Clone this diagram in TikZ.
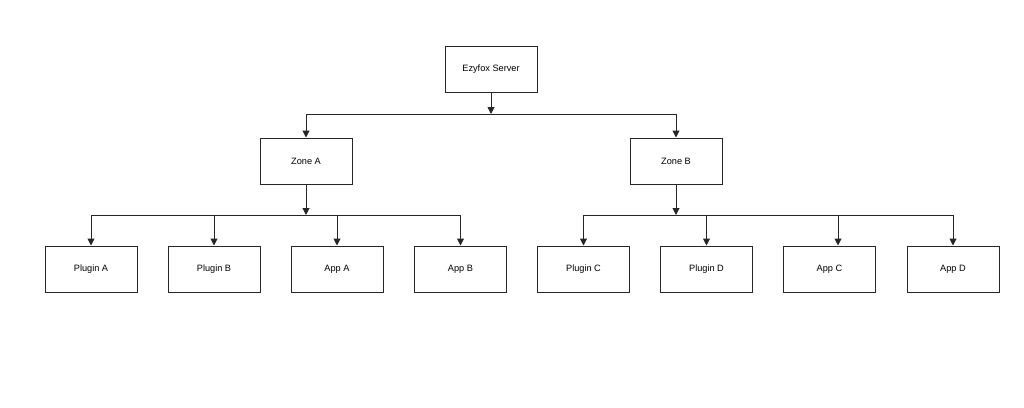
\documentclass[tikz,border=0pt]{standalone}
\usepackage{fontspec}
\setmainfont{Liberation Sans}
\usetikzlibrary{arrows.meta}
\begin{document}
\begin{tikzpicture}[x=1pt,y=-1pt,
  box/.style={draw=black!85, line width=1pt, fill=white, minimum width=92pt, minimum height=46pt, inner sep=0pt, font=\fontsize{9.2}{11}\selectfont},
  arr/.style={draw=black!85, line width=1pt, -{Triangle[length=7pt,width=7pt]}},
  ln/.style={draw=black!85, line width=1pt}]
\useasboundingbox[fill=white] (0,0) rectangle (1024,407);
% nodes
\node[box] (srv) at (491,69) {Ezyfox Server};
\node[box] (za) at (306,161) {Zone A};
\node[box] (zb) at (676,161) {Zone B};
\node[box] (pa) at (91,269) {Plugin A};
\node[box] (pb) at (214,269) {Plugin B};
\node[box] (aa) at (337,269) {App A};
\node[box] (ab) at (460.5,269) {App B};
\node[box] (pc) at (583.5,269) {Plugin C};
\node[box] (pd) at (706.5,269) {Plugin D};
\node[box] (ac) at (829.5,269) {App C};
\node[box] (ad) at (953,269) {App D};
% bus coordinates
\coordinate (b0) at (491,114);
\coordinate (b0l) at (306,114);
\coordinate (b0r) at (676,114);
\coordinate (ba) at (306,215);
\coordinate (ba1) at (91,215);
\coordinate (ba2) at (214,215);
\coordinate (ba3) at (337,215);
\coordinate (ba4) at (460.5,215);
\coordinate (bb) at (676,215);
\coordinate (bb1) at (583.5,215);
\coordinate (bb2) at (706.5,215);
\coordinate (bb3) at (838,215);
\coordinate (bb4) at (953,215);
% top level
\draw[arr] (srv) -- (b0);
\draw[ln] (b0l) -- (b0r);
\draw[arr] (b0l) -- (za);
\draw[arr] (b0r) -- (zb);
% zone A
\draw[arr] (za) -- (ba);
\draw[ln] (ba1) -- (ba4);
\draw[arr] (ba1) -- (pa);
\draw[arr] (ba2) -- (pb);
\draw[arr] (ba3) -- (aa);
\draw[arr] (ba4) -- (ab);
% zone B
\draw[arr] (zb) -- (bb);
\draw[ln] (bb1) -- (bb4);
\draw[arr] (bb1) -- (pc);
\draw[arr] (bb2) -- (pd);
\draw[arr] (bb3) -- (bb3 |- ac.north);
\draw[arr] (bb4) -- (ad);
\end{tikzpicture}
\end{document}
